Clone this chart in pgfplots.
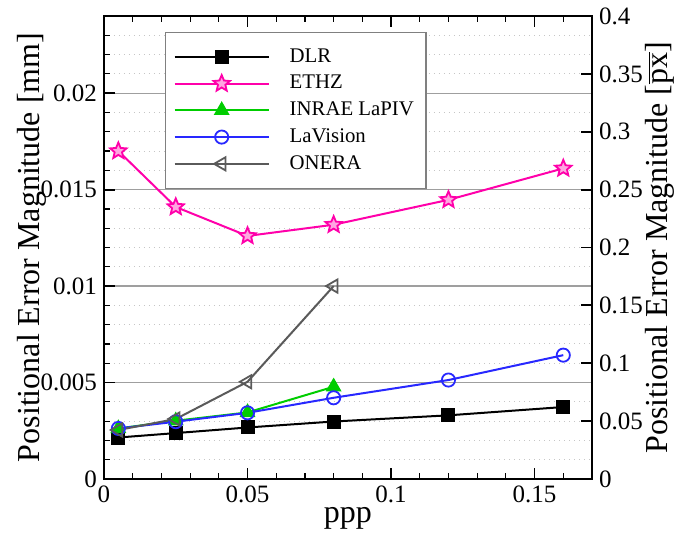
\documentclass[border=0pt]{standalone}
\usepackage{fontspec}
\setmainfont{Liberation Serif}
\usepackage{pgfplots}
\pgfplotsset{compat=1.18}
\definecolor{ethz}{RGB}{255,0,170}
\definecolor{inrae}{RGB}{0,205,0}
\definecolor{lav}{RGB}{40,40,255}
\definecolor{onera}{RGB}{90,90,90}
\pgfdeclareplotmark{pstar}{%
 \pgfpathmoveto{\pgfpointpolar{90}{\pgfplotmarksize}}%
 \pgfpathlineto{\pgfpointpolar{126}{0.45\pgfplotmarksize}}%
 \pgfpathlineto{\pgfpointpolar{162}{\pgfplotmarksize}}%
 \pgfpathlineto{\pgfpointpolar{198}{0.45\pgfplotmarksize}}%
 \pgfpathlineto{\pgfpointpolar{234}{\pgfplotmarksize}}%
 \pgfpathlineto{\pgfpointpolar{270}{0.45\pgfplotmarksize}}%
 \pgfpathlineto{\pgfpointpolar{306}{\pgfplotmarksize}}%
 \pgfpathlineto{\pgfpointpolar{342}{0.45\pgfplotmarksize}}%
 \pgfpathlineto{\pgfpointpolar{18}{\pgfplotmarksize}}%
 \pgfpathlineto{\pgfpointpolar{54}{0.45\pgfplotmarksize}}%
 \pgfpathclose\pgfusepathqfillstroke}
\begin{document}
\begin{tikzpicture}
\path[use as bounding box] (-52pt,-30.5pt) rectangle (288.5pt,239.5pt);
\begin{axis}[
  width=244pt, height=231.5pt, scale only axis,
  xmin=0, xmax=0.17, ymin=0, ymax=0.024,
  xtick={0,0.05,0.1,0.15},
  minor xtick={0.01,0.02,0.03,0.04,0.06,0.07,0.08,0.09,0.11,0.12,0.13,0.14,0.16},
  ytick={0,0.005,0.01,0.015,0.02},
  minor ytick={0.001,0.002,0.003,0.004,0.006,0.007,0.008,0.009,0.011,0.012,0.013,0.014,0.016,0.017,0.018,0.019,0.021,0.022,0.023},
  ytick pos=left, xtick pos=both, tick align=inside,
  major tick length=5.5pt, minor tick length=3pt,
  every tick/.style={black, line width=0.9pt},
  minor tick style={line width=0.6pt},
  axis line style={line width=1.1pt},
  ymajorgrids, yminorgrids,
  major grid style={gray!75, line width=0.6pt, solid},
  minor grid style={gray!45, line width=0.5pt, dotted},
  scaled x ticks=false, scaled y ticks=false,
  xticklabel style={/pgf/number format/fixed, /pgf/number format/precision=2},
  yticklabel style={/pgf/number format/fixed, /pgf/number format/precision=3},
  /pgf/number format/assume math mode=true,
  tick label style={font=\fontsize{12.5}{14}\selectfont},
  xlabel={ppp},
  ylabel={Positional Error Magnitude [mm]},
  every axis x label/.style={at={(rel axis cs:0.5,0)}, yshift=-22pt, anchor=base, font=\fontsize{16}{18}\selectfont},
  every axis y label/.style={at={(rel axis cs:0,0.5)}, xshift=-36pt, rotate=90, anchor=center, font=\fontsize{16}{18}\selectfont},
  legend style={at={(rel axis cs:0.125,0.9654)}, anchor=north west, draw=gray, line width=0.7pt, fill=white,
    font=\fontsize{10.4}{12}\selectfont, inner xsep=4pt, inner ysep=6pt, row sep=1pt},
  legend cell align=left,
  legend image code/.code={\draw[mark repeat=2,mark phase=2,#1] plot coordinates {(0pt,0pt) (23.5pt,0pt) (47pt,0pt)}; \path (55pt,0pt);},
]
\addplot[black, line width=1pt, mark=square*, mark size=3pt] coordinates {
 (0.005,0.00215) (0.025,0.00238) (0.05,0.00267) (0.08,0.00298) (0.12,0.00330) (0.16,0.00373)};
\addlegendentry{DLR}
\addplot[ethz, line width=1pt, mark=pstar, mark size=4.3pt, mark options={fill=ethz!35, line width=0.9pt}] coordinates {
 (0.005,0.0170) (0.025,0.0141) (0.05,0.0126) (0.08,0.01318) (0.12,0.01447) (0.16,0.0161)};
\addlegendentry{ETHZ}
\addplot[inrae, line width=1pt, mark=triangle*, mark size=3.6pt] coordinates {
 (0.005,0.00262) (0.025,0.00302) (0.05,0.00345) (0.08,0.00478)};
\addlegendentry{INRAE LaPIV}
\addplot[lav, line width=1pt, mark=o, mark size=3.3pt, mark options={line width=0.9pt}] coordinates {
 (0.005,0.00262) (0.025,0.00297) (0.05,0.00343) (0.08,0.00421) (0.12,0.00513) (0.16,0.00642)};
\addlegendentry{LaVision}
\addplot[onera, line width=1pt, mark=triangle, mark size=3.8pt, mark options={rotate=90, line width=0.9pt}] coordinates {
 (0.005,0.00254) (0.025,0.00311) (0.05,0.00504) (0.08,0.0100)};
\addlegendentry{ONERA}
\end{axis}
\begin{axis}[
  width=244pt, height=231.5pt, scale only axis,
  xmin=0, xmax=0.17, ymin=0, ymax=0.4,
  axis x line=none, axis y line*=right,
  ytick={0,0.05,0.1,0.15,0.2,0.25,0.3,0.35,0.4},
  tick align=inside, major tick length=5.5pt,
  every tick/.style={black, line width=0.9pt},
  axis line style={line width=1.1pt},
  scaled y ticks=false,
  yticklabel style={/pgf/number format/fixed, /pgf/number format/precision=2},
  /pgf/number format/assume math mode=true,
  tick label style={font=\fontsize{12.5}{14}\selectfont},
  ylabel={Positional Error Magnitude [$\overline{\hbox{px}}$]},
  every axis y label/.style={at={(rel axis cs:1,0.5)}, xshift=34pt, rotate=90, anchor=center, font=\fontsize{16}{18}\selectfont},
]
\addplot[draw=none] coordinates {(0,0)};
\end{axis}
\end{tikzpicture}
\end{document}
